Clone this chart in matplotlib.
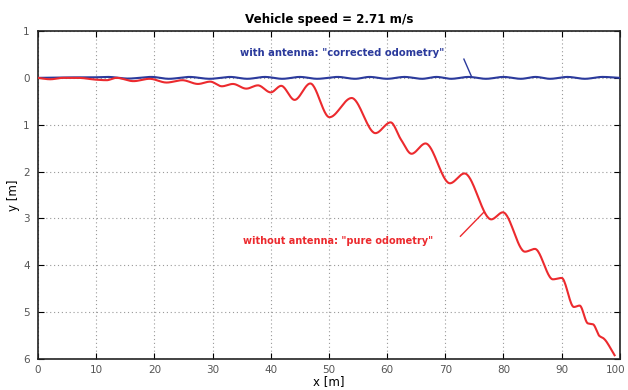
import numpy as np
import matplotlib
matplotlib.use("Agg")
import matplotlib.pyplot as plt
import matplotlib.transforms as mtransforms

# pure odometry (red)
x_pure = [0, 2.1, 4.3, 6.9, 10.1, 11.8, 13.5, 16.4, 19.2, 22.1, 24.8, 27.5, 29.6,
          31.6, 33.5, 35.8, 37.8, 40.0, 41.8, 44.1, 46.8, 50.1, 53.9, 58.0, 60.6,
          62.4, 64.2, 66.6, 70.8, 73.3, 77.9, 79.9, 83.7, 85.4, 88.5, 90.0, 92.1,
          93.1, 94.5, 95.4, 96.5, 97.2, 99.1]
y_pure = [0.0, 0.03, 0.0, 0.0, 0.04, 0.05, 0.0, 0.07, 0.02, 0.1, 0.05, 0.13, 0.08,
          0.18, 0.13, 0.23, 0.16, 0.31, 0.17, 0.47, 0.12, 0.84, 0.43, 1.18, 0.95,
          1.32, 1.62, 1.40, 2.25, 2.04, 3.02, 2.87, 3.71, 3.65, 4.30, 4.27, 4.89,
          4.86, 5.24, 5.26, 5.51, 5.56, 5.92]

# corrected odometry (blue)
x_corr = [0, 5, 9, 12, 15.5, 19.5, 22.5, 26, 29.5, 33, 36, 39, 42, 45, 48, 51.5,
          54.5, 57, 60, 63, 66, 68.5, 71, 74, 77, 80, 83, 85.5, 88, 91, 94, 97, 100]
y_corr = [0.0, -0.01, -0.01, -0.02, 0.015, -0.02, 0.02, -0.02, 0.02, -0.02, 0.02,
          -0.02, 0.02, -0.02, 0.02, -0.02, 0.02, -0.02, 0.02, -0.02, 0.02, -0.02,
          0.02, -0.02, 0.02, -0.02, 0.02, -0.02, 0.02, -0.02, 0.02, -0.02, 0.0]

y_ticks = [-1, 0, 1, 2, 3, 4, 5, 6]
y_ticklabels = ['1', '0', '1', '2', '3', '4', '5', '6']
x_ticks = [0, 10, 20, 30, 40, 50, 60, 70, 80, 90, 100]

blue = '#2b3a9c'
red = '#ec2a2e'


def smooth(xs, ys, n=800):
    # monotone cubic (PCHIP style) through the read points
    xs = np.asarray(xs, float)
    ys = np.asarray(ys, float)
    h = np.diff(xs)
    d = np.diff(ys) / h
    m = np.zeros_like(ys)
    for i in range(1, len(xs) - 1):
        if d[i - 1] * d[i] > 0:
            w1 = 2 * h[i] + h[i - 1]
            w2 = h[i] + 2 * h[i - 1]
            m[i] = (w1 + w2) / (w1 / d[i - 1] + w2 / d[i])
    m[0] = d[0]
    m[-1] = d[-1]
    xx = np.linspace(xs[0], xs[-1], n)
    k = np.clip(np.searchsorted(xs, xx) - 1, 0, len(xs) - 2)
    t = (xx - xs[k]) / h[k]
    h00 = 2 * t**3 - 3 * t**2 + 1
    h10 = t**3 - 2 * t**2 + t
    h01 = -2 * t**3 + 3 * t**2
    h11 = t**3 - t**2
    yy = h00 * ys[k] + h10 * h[k] * m[k] + h01 * ys[k + 1] + h11 * h[k] * m[k + 1]
    return xx, yy


fig = plt.figure(figsize=(6.28, 3.9), dpi=100)
ax = fig.add_axes([0.0605, 0.0795, 0.9265, 0.841])

xs, ys = smooth(x_corr, y_corr)
ax.plot(xs, ys, color=blue, lw=1.5, zorder=3)
xs, ys = smooth(x_pure, y_pure)
ax.plot(xs, ys, color=red, lw=1.5, zorder=3)

ax.plot([73.2, 74.5], [-0.40, -0.03], color=blue, lw=1)
ax.plot([72.6, 76.6], [3.38, 2.87], color=red, lw=1)

ax.text(34.7, -0.53, 'with antenna: "corrected odometry"', color=blue,
        fontsize=7.2, fontweight='bold', va='center', ha='left')
ax.text(35.2, 3.48, 'without antenna: "pure odometry"', color=red,
        fontsize=7.0, fontweight='bold', va='center', ha='left')

ax.set_xlim(0, 100)
ax.set_ylim(6, -1)
ax.set_xticks(x_ticks)
ax.set_yticks(y_ticks)
ax.set_yticklabels(y_ticklabels)
ax.tick_params(direction='in', labelsize=7.5, labelcolor='#555555', length=4,
               pad=4, top=True, right=True)
ax.tick_params(axis='y', pad=6)
ax.grid(True, linestyle=(0, (1, 2.5)), color='#999999', lw=0.8)
for s in ax.spines.values():
    s.set_linewidth(1.2)
    s.set_color('#222222')

# keep "100" inside the figure
last = ax.get_xticklabels()[-1]
last.set_transform(last.get_transform() +
                   mtransforms.ScaledTranslation(-0.04, 0, fig.dpi_scale_trans))

ax.set_title('Vehicle speed = 2.71 m/s', fontsize=8.6, fontweight='bold', pad=6)
ax.set_xlabel('x [m]', fontsize=8.5, labelpad=0)
ax.set_ylabel('y [m]', fontsize=8.5, labelpad=2)

fig.savefig('out.png', dpi=100)
